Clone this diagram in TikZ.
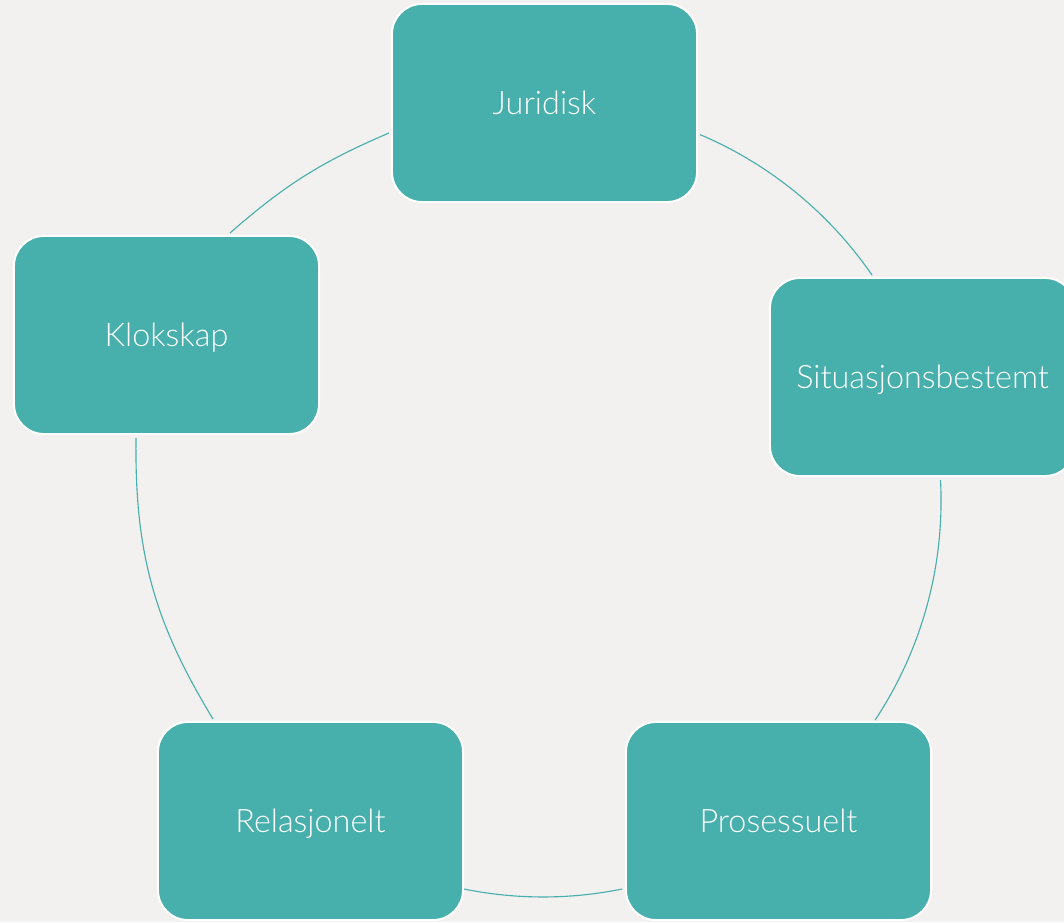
\documentclass[tikz,border=0pt]{standalone}
\usepackage{fontspec}
\setmainfont{Lato}[UprightFont=* Light]
\usetikzlibrary{positioning, calc}
\definecolor{Teal}{HTML}{47AFAC}
\definecolor{Paper}{HTML}{F2F1EF}
\tikzset{
  stepbox/.style={rectangle, rounded corners=0.75cm, draw=white, fill=Teal,
                  line width=1.4pt, minimum width=7.625cm, minimum height=4.95cm,
                  font=\fontsize{23}{27}\selectfont, text=white, align=center,
                  text height=16.5pt, text depth=0pt},
}

\begin{document}
\begin{tikzpicture}[
    x=0.025cm, y=0.025cm,
    ring/.style={draw=Teal, line width=0.8pt}
  ]
  \fill[Paper] (0,0) rectangle (1064,922);
  \useasboundingbox (0,0) rectangle (1064,922);
  % the five steps
  \node[stepbox] (jur) at (544.5,819) {Juridisk};
  \node[stepbox] (sit) at (922.5,545) {Situasjonsbestemt};
  \node[stepbox] (pro) at (778.5,101) {Prosessuelt};
  \node[stepbox] (rel) at (310.5,101) {Relasjonelt};
  \node[stepbox] (klo) at (166.5,587) {Klokskap};
  % ring between the steps
  \draw[ring] ([shift={(2,-31.6)}]jur.east) arc[start angle=67, end angle=34.5, radius=397];
  \draw[ring] ([shift={(18,-3.2)}]sit.south) arc[start angle=3, end angle=-33.5, radius=397];
  \draw[ring] ([shift={(-2.8,-68)}]pro.west) arc[start angle=-78.5, end angle=-101.5, radius=397];
  \draw[ring] ([shift={(-97.5,2)}]rel.north) to[bend left=16] ([shift={(-30.5,-3)}]klo.south);
  \draw[ring] ([shift={(63.5,2)}]klo.north) to[bend left=9] ([shift={(-2,-30)}]jur.west);
\end{tikzpicture}
\end{document}
